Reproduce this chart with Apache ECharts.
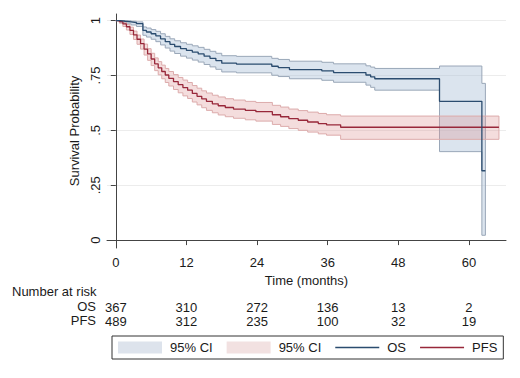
<!DOCTYPE html>
<html>
<head>
<meta charset="utf-8">
<script src="https://cdn.jsdelivr.net/npm/echarts@6/dist/echarts.min.js"></script>
<style>
  html, body { margin: 0; padding: 0; background: #fff; }
  #main { width: 520px; height: 378px; }
</style>
</head>
<body>
<div id="main"></div>
<script>
// 刻度
var xTicks = [0, 12, 24, 36, 48, 60];
var yTicks = [0, 0.25, 0.5, 0.75, 1];

// Number at risk
var osRisk = [367, 310, 272, 136, 13, 2];
var pfsRisk = [489, 312, 235, 100, 32, 19];

// OS (Kaplan-Meier 阶梯点)
var osTime  = [0, 0.8, 1.6, 2.6, 3.5, 4.6, 5.2, 6.0, 6.8, 7.6, 8.4, 9.2, 10.0, 11.0, 12.0, 13.0, 14.0, 15.0, 16.0, 17.0, 18.0, 20.5, 26.5, 27.6, 29.5, 35.0, 37.0, 42.5, 43.3, 44.0, 55.0, 62.2, 62.8];
var osSurv  = [1, 0.997, 0.994, 0.991, 0.986, 0.955, 0.948, 0.940, 0.930, 0.917, 0.904, 0.892, 0.882, 0.872, 0.864, 0.856, 0.848, 0.838, 0.828, 0.818, 0.806, 0.802, 0.792, 0.786, 0.777, 0.771, 0.763, 0.752, 0.744, 0.735, 0.632, 0.316, 0.316];
var osLower = [1, 0.990, 0.985, 0.980, 0.973, 0.933, 0.925, 0.915, 0.904, 0.889, 0.875, 0.861, 0.850, 0.838, 0.829, 0.820, 0.811, 0.800, 0.789, 0.778, 0.766, 0.762, 0.751, 0.745, 0.735, 0.728, 0.719, 0.706, 0.696, 0.683, 0.403, 0.022, 0.022];
var osUpper = [1, 1.000, 0.999, 0.997, 0.994, 0.971, 0.966, 0.959, 0.951, 0.940, 0.928, 0.917, 0.908, 0.899, 0.892, 0.885, 0.878, 0.869, 0.860, 0.851, 0.840, 0.837, 0.828, 0.823, 0.815, 0.810, 0.803, 0.794, 0.788, 0.782, 0.793, 0.714, 0.714];

// PFS
var pfsTime  = [0, 0.6, 1.2, 1.8, 2.4, 3.0, 3.6, 4.2, 4.8, 5.4, 6.0, 6.6, 7.2, 7.8, 8.4, 9.0, 9.8, 10.6, 11.4, 12.2, 13.0, 13.8, 14.6, 15.4, 16.4, 17.4, 18.6, 20.0, 22.0, 23.8, 26.6, 28.0, 29.4, 31.0, 32.6, 34.4, 35.8, 38.2, 65.1];
var pfsSurv  = [1, 0.995, 0.985, 0.972, 0.955, 0.935, 0.915, 0.895, 0.870, 0.848, 0.825, 0.803, 0.785, 0.768, 0.752, 0.737, 0.722, 0.708, 0.695, 0.683, 0.668, 0.655, 0.643, 0.632, 0.621, 0.612, 0.604, 0.597, 0.591, 0.585, 0.571, 0.562, 0.553, 0.546, 0.538, 0.531, 0.525, 0.514, 0.514];
var pfsLower = [1, 0.988, 0.973, 0.957, 0.937, 0.914, 0.892, 0.870, 0.843, 0.819, 0.795, 0.772, 0.753, 0.735, 0.718, 0.702, 0.686, 0.671, 0.657, 0.645, 0.629, 0.616, 0.603, 0.591, 0.580, 0.570, 0.562, 0.555, 0.548, 0.542, 0.527, 0.518, 0.508, 0.500, 0.492, 0.484, 0.478, 0.459, 0.459];
var pfsUpper = [1, 0.999, 0.993, 0.983, 0.970, 0.952, 0.934, 0.916, 0.893, 0.872, 0.851, 0.830, 0.813, 0.797, 0.782, 0.768, 0.754, 0.741, 0.729, 0.718, 0.704, 0.692, 0.680, 0.670, 0.660, 0.652, 0.644, 0.638, 0.632, 0.627, 0.614, 0.606, 0.597, 0.590, 0.583, 0.577, 0.571, 0.565, 0.565];

var FONT = '"Liberation Sans", Arial, sans-serif';
var TXT = '#1a1a1a';
var OS_COLOR = '#2b4c6f';
var PFS_COLOR = '#98283a';
var LINE_ICON = 'path://M0,0H44V1.3H0Z';

function zip(a, b) {
	var out = [];
	for (var i = 0; i < a.length; i++) out.push([a[i], b[i]]);
	return out;
}

// 置信区间带：阶梯多边形，用 api.coord 换算坐标
function bandRender(times, lower, upper, fill, stroke) {
	return function (params, api) {
		var pts = [], i;
		for (i = 0; i < times.length - 1; i++) {
			pts.push(api.coord([times[i], upper[i]]));
			pts.push(api.coord([times[i + 1], upper[i]]));
		}
		for (i = times.length - 2; i >= 0; i--) {
			pts.push(api.coord([times[i + 1], lower[i]]));
			pts.push(api.coord([times[i], lower[i]]));
		}
		return {
			type: 'polygon',
			shape: { points: pts },
			style: { fill: fill, stroke: stroke, lineWidth: 1 }
		};
	};
}

function riskAxis(values, offset) {
	return {
		type: 'value', min: -1.5, max: 66.3, position: 'bottom', offset: offset,
		axisLine: { show: false }, axisTick: { show: false }, splitLine: { show: false },
		axisLabel: {
			customValues: xTicks, margin: 0, fontFamily: FONT, fontSize: 13, color: TXT,
			formatter: function (v) { return String(values[xTicks.indexOf(v)]); }
		}
	};
}

var chart = echarts.init(document.getElementById('main'), null, { renderer: 'svg' });

var option = {
	backgroundColor: '#fff',
	animation: false,
	grid: { left: 107, right: 14, top: 14, bottom: 130 },
	xAxis: [
		{
			type: 'value', min: -1.5, max: 66.3,
			name: 'Time (months)', nameLocation: 'middle', nameGap: 25,
			nameTextStyle: { fontFamily: FONT, fontSize: 13, color: TXT },
			axisLine: { show: true, lineStyle: { color: '#444', width: 1 } },
			axisTick: { show: true, length: 5, customValues: xTicks, lineStyle: { color: '#444' } },
			axisLabel: { customValues: xTicks, margin: 8, fontFamily: FONT, fontSize: 13, color: TXT },
			splitLine: { show: false }
		},
		riskAxis(osRisk, 53),
		riskAxis(pfsRisk, 67)
	],
	yAxis: {
		type: 'value', min: -0.036, max: 1.03,
		name: 'Survival Probability', nameLocation: 'middle', nameGap: 21,
		nameTextStyle: { fontFamily: FONT, fontSize: 13, color: TXT },
		axisLine: { show: true, lineStyle: { color: '#444', width: 1 } },
		axisTick: { show: true, length: 5, customValues: yTicks, lineStyle: { color: '#444' } },
		axisLabel: {
			customValues: yTicks, rotate: 90, margin: 5, fontFamily: FONT, fontSize: 13, color: TXT,
			formatter: function (v) { return v === 0 || v === 1 ? String(v) : String(v).replace(/^0/, ''); }
		},
		splitLine: { show: true, lineStyle: { color: '#ececec', width: 1 } }
	},
	legend: {
		left: 112, top: 336, padding: [5, 6, 5, 6],
		borderColor: '#333', borderWidth: 1, borderRadius: 0,
		itemWidth: 44, itemHeight: 12, itemGap: 14,
		textStyle: { fontFamily: FONT, fontSize: 13, color: TXT, padding: [0, 0, 0, 3] },
		formatter: function (name) { return name.indexOf('95% CI') >= 0 ? '95% CI' : name; },
		selectedMode: false,
		data: [
			{ name: 'OS 95% CI', icon: 'rect', itemStyle: { color: '#dde3ec', borderWidth: 0 } },
			{ name: 'PFS 95% CI', icon: 'rect', itemStyle: { color: '#f2e1e1', borderWidth: 0 } },
			{ name: 'OS', icon: LINE_ICON, itemStyle: { color: OS_COLOR, borderWidth: 0 } },
			{ name: 'PFS', icon: LINE_ICON, itemStyle: { color: PFS_COLOR, borderWidth: 0 } }
		]
	},
	graphic: [
		{ type: 'text', left: 12, top: 285, style: { text: 'Number at risk', font: '13px ' + FONT, fill: TXT } },
		{ type: 'text', right: 424, top: 300, style: { text: 'OS', font: '13px ' + FONT, fill: TXT, align: 'right' } },
		{ type: 'text', right: 424, top: 314, style: { text: 'PFS', font: '13px ' + FONT, fill: TXT, align: 'right' } }
	],
	series: [
		{
			name: 'OS 95% CI', type: 'custom', data: [[0, 1]], clip: true,
			itemStyle: { color: '#dde3ec' },
			renderItem: bandRender(osTime, osLower, osUpper, 'rgba(170,190,215,0.42)', '#9aa7b8'),
			z: 1
		},
		{
			name: 'PFS 95% CI', type: 'custom', data: [[0, 1]], clip: true,
			itemStyle: { color: '#f2e1e1' },
			renderItem: bandRender(pfsTime, pfsLower, pfsUpper, 'rgba(222,150,150,0.32)', '#dcabab'),
			z: 2
		},
		{
			name: 'PFS', type: 'line', step: 'end', symbol: 'none',
			data: zip(pfsTime, pfsSurv),
			lineStyle: { color: PFS_COLOR, width: 1.3 }, itemStyle: { color: PFS_COLOR },
			z: 3
		},
		{
			name: 'OS', type: 'line', step: 'end', symbol: 'none',
			data: zip(osTime, osSurv),
			lineStyle: { color: OS_COLOR, width: 1.3 }, itemStyle: { color: OS_COLOR },
			z: 4
		}
	]
};

chart.setOption(option);
</script>
</body>
</html>
